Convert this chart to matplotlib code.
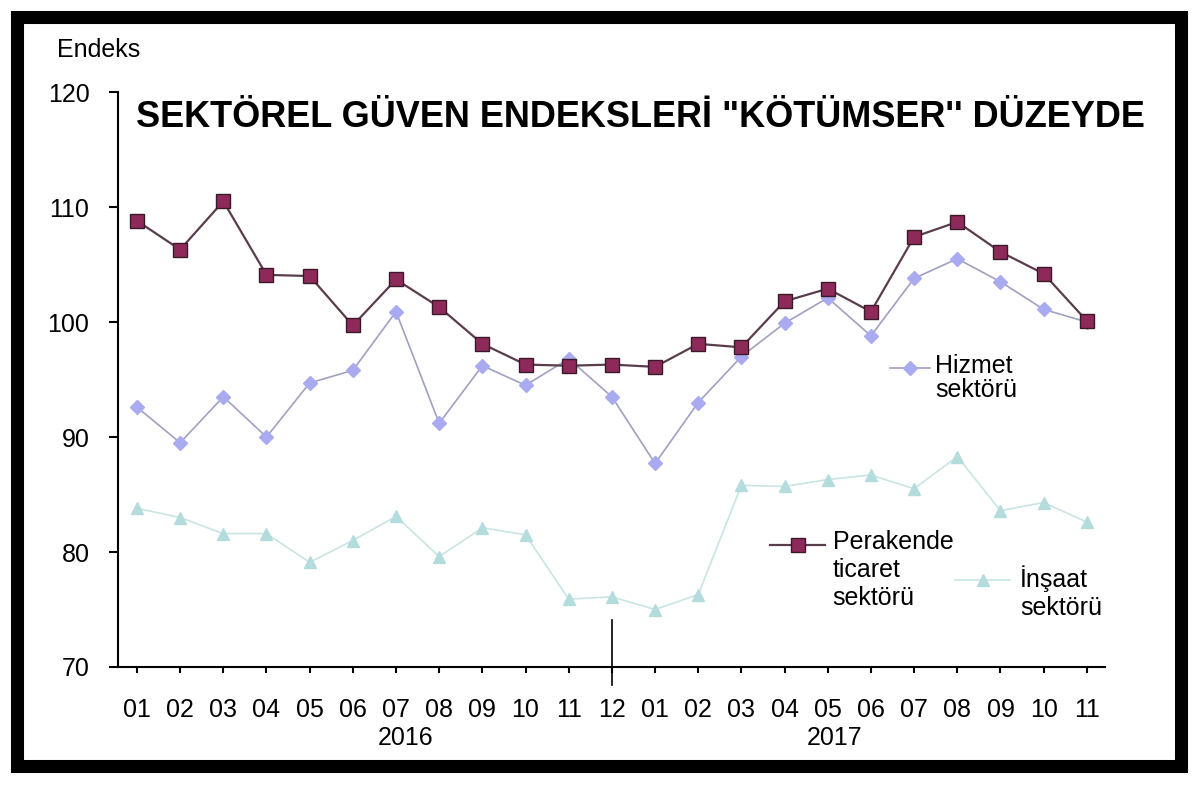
import matplotlib
matplotlib.use('Agg')
import matplotlib.pyplot as plt
from matplotlib.patches import Rectangle
from matplotlib.transforms import blended_transform_factory

plt.rcParams['font.family'] = ['Liberation Sans', 'DejaVu Sans']

months = ['01', '02', '03', '04', '05', '06', '07', '08', '09', '10', '11', '12',
          '01', '02', '03', '04', '05', '06', '07', '08', '09', '10', '11']
years = ['2016', '2017']
year_pos = [6.23, 16.16]

perakende = [108.8, 106.3, 110.5, 104.1, 104.0, 99.7, 103.7, 101.3, 98.1, 96.3, 96.2, 96.3,
             96.1, 98.1, 97.8, 101.8, 102.9, 100.9, 107.4, 108.7, 106.1, 104.2, 100.1]
hizmet = [92.6, 89.5, 93.5, 90.0, 94.7, 95.8, 100.9, 91.2, 96.2, 94.5, 96.8, 93.5,
          87.7, 93.0, 97.0, 99.9, 102.1, 98.8, 103.8, 105.5, 103.5, 101.1, 100.0]
insaat = [83.8, 83.0, 81.6, 81.6, 79.1, 81.0, 83.1, 79.6, 82.1, 81.5, 75.9, 76.1,
          75.0, 76.3, 85.8, 85.7, 86.3, 86.7, 85.5, 88.3, 83.6, 84.3, 82.6]

x = list(range(len(months)))

fig = plt.figure(figsize=(12, 7.9), dpi=100)
ax = fig.add_axes([0.0983, 0.1557, 0.8225, 0.7278])

c_per_line = '#5a3d4d'
c_per_face = '#8e2a5a'
c_hiz_line = '#a0a0c0'
c_hiz_face = '#aaaaf0'
c_ins_line = '#c8e4e4'
c_ins_face = '#b4dcdc'

ax.plot(x, insaat, color=c_ins_line, lw=1.2, marker='^', ms=9,
        mfc=c_ins_face, mec=c_ins_face, zorder=2)
ax.plot(x, hizmet, color=c_hiz_line, lw=1.2, marker='D', ms=7,
        mfc=c_hiz_face, mec=c_hiz_face, zorder=3)
ax.plot(x, perakende, color=c_per_line, lw=1.6, marker='s', ms=10,
        mfc=c_per_face, mec='#3a1a2a', mew=1, zorder=4)

ax.set_xlim(-0.44, 22.42)
ax.set_ylim(70, 120)
ax.set_yticks([70, 80, 90, 100, 110, 120])
ax.set_xticks(x)
ax.set_xticklabels(months)
ax.tick_params(axis='y', direction='out', length=6.5, width=1.5, pad=14, labelsize=18)
ax.tick_params(axis='x', direction='out', length=4.5, width=1.5, pad=18, labelsize=18)
for s in ['top', 'right']:
    ax.spines[s].set_visible(False)
for s in ['left', 'bottom']:
    ax.spines[s].set_linewidth(1.5)

# year separator
ax.plot([11, 11], [74.1, 68.4], color='black', lw=1.2, clip_on=False, zorder=5)

trans = blended_transform_factory(ax.transData, ax.transAxes)
for yr, xp in zip(years, year_pos):
    ax.text(xp, -0.123, yr, transform=trans, ha='center', va='center', fontsize=18)

# legend entries
T = ax.transAxes
ax.plot([0.782, 0.823], [0.52, 0.52], color=c_hiz_line, lw=1.2, transform=T, clip_on=False)
ax.plot([0.8025], [0.52], marker='D', ms=7, color=c_hiz_face, transform=T, clip_on=False)
ax.text(0.828, 0.52, 'Hizmet\nsektörü', transform=T, ha='left', va='top', fontsize=18,
        linespacing=1.0, position=(0.828, 0.545))

ax.plot([0.661, 0.716], [0.212, 0.212], color=c_per_line, lw=1.6, transform=T, clip_on=False)
ax.plot([0.6885], [0.212], marker='s', ms=10, mfc=c_per_face, mec='#3a1a2a',
        transform=T, clip_on=False)
ax.text(0.724, 0.238, 'Perakende\nticaret\nsektörü', transform=T, ha='left', va='top',
        fontsize=18, linespacing=1.2)

ax.plot([0.848, 0.904], [0.151, 0.151], color=c_ins_line, lw=1.2, transform=T, clip_on=False)
ax.plot([0.876], [0.151], marker='^', ms=9, color=c_ins_face, transform=T, clip_on=False)
ax.text(0.914, 0.177, 'İnşaat\nsektörü', transform=T, ha='left', va='top',
        fontsize=18, linespacing=1.2)

fig.text(0.534, 0.851, 'SEKTÖREL GÜVEN ENDEKSLERİ "KÖTÜMSER\'\' DÜZEYDE',
         ha='center', va='center', fontsize=26, fontweight='bold')
fig.text(0.0475, 0.937, 'Endeks', ha='left', va='center', fontsize=18)

fig.patches.append(Rectangle((0.01375, 0.031), 0.97, 0.948, transform=fig.transFigure,
                             fill=False, edgecolor='black', linewidth=9.4))

fig.savefig('out.png', dpi=100)
